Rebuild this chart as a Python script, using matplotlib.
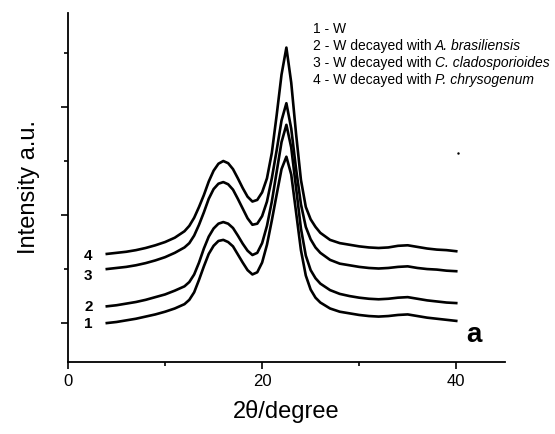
import matplotlib.pyplot as plt
from matplotlib.ticker import MultipleLocator, NullFormatter

plt.rcParams['font.family'] = ['Liberation Sans', 'DejaVu Sans']

# 2theta positions (degree)
two_theta = [4, 5, 6, 7, 8, 9, 10, 11, 12, 12.5, 13, 13.5, 14, 14.5, 15, 15.5, 16,
             16.5, 17, 17.5, 18, 18.5, 19, 19.5, 20, 20.5, 21, 21.5, 22, 22.5, 23,
             23.5, 24, 24.5, 25, 25.5, 26, 27, 28, 29, 30, 31, 32, 33, 34, 35, 36,
             37, 38, 39, 40]

# intensities (a.u., stacked)
w1 = [1.00, 1.02, 1.05, 1.08, 1.12, 1.16, 1.21, 1.27, 1.35, 1.43, 1.57, 1.80, 2.05,
      2.28, 2.43, 2.52, 2.54, 2.50, 2.42, 2.27, 2.12, 1.98, 1.90, 1.94, 2.12, 2.45,
      2.90, 3.38, 3.85, 4.08, 3.75, 3.05, 2.35, 1.88, 1.62, 1.47, 1.38, 1.27, 1.21,
      1.18, 1.15, 1.13, 1.12, 1.13, 1.15, 1.16, 1.13, 1.10, 1.08, 1.06, 1.04]
w2 = [1.31, 1.33, 1.36, 1.39, 1.43, 1.48, 1.53, 1.60, 1.68, 1.76, 1.90, 2.12, 2.38,
      2.60, 2.75, 2.84, 2.87, 2.84, 2.76, 2.62, 2.47, 2.34, 2.26, 2.30, 2.48, 2.80,
      3.25, 3.80, 4.35, 4.67, 4.25, 3.50, 2.75, 2.25, 1.98, 1.83, 1.73, 1.61, 1.54,
      1.50, 1.47, 1.45, 1.44, 1.45, 1.47, 1.48, 1.45, 1.42, 1.40, 1.38, 1.37]
w3 = [2.00, 2.02, 2.04, 2.07, 2.11, 2.16, 2.22, 2.30, 2.40, 2.48, 2.62, 2.82, 3.05,
      3.30, 3.48, 3.58, 3.61, 3.57, 3.47, 3.30, 3.12, 2.94, 2.82, 2.84, 2.98, 3.25,
      3.68, 4.20, 4.75, 5.07, 4.60, 3.85, 3.20, 2.78, 2.55, 2.40, 2.30, 2.17, 2.10,
      2.07, 2.04, 2.02, 2.01, 2.02, 2.04, 2.05, 2.02, 2.00, 1.99, 1.97, 1.96]
w4 = [2.28, 2.30, 2.32, 2.35, 2.39, 2.44, 2.50, 2.58, 2.70, 2.80, 2.95, 3.15, 3.37,
      3.62, 3.82, 3.95, 4.00, 3.96, 3.85, 3.68, 3.50, 3.34, 3.25, 3.28, 3.42, 3.68,
      4.15, 4.85, 5.60, 6.10, 5.45, 4.50, 3.65, 3.15, 2.92, 2.78, 2.67, 2.54, 2.48,
      2.45, 2.42, 2.40, 2.39, 2.40, 2.43, 2.44, 2.41, 2.38, 2.36, 2.35, 2.33]

curve_labels = ['1', '2', '3', '4']
label_y = [0.98, 1.30, 1.87, 2.24]
legend_plain = ['1 - W', '2 - W decayed with ', '3 - W decayed with ',
                '4 - W decayed with ']
legend_italic = ['', 'A. brasiliensis', 'C. cladosporioides', 'P. chrysogenum']

fig = plt.figure(figsize=(5.55, 4.34), dpi=100)
ax = fig.add_axes([0.1225, 0.166, 0.787, 0.804])

for w in [w1, w2, w3, w4]:
    ax.plot(two_theta, w, color='black', lw=1.9)

for lab, yy in zip(curve_labels, label_y):
    ax.text(2.1, yy, lab, fontsize=11, fontweight='bold', ha='center', va='center')

# legend as text lines, species names in italics
for i, (p, it) in enumerate(zip(legend_plain, legend_italic)):
    t = ax.text(25.2, 6.44 - i * 0.315, p, fontsize=10, ha='left', va='center')
    if it:
        ax.annotate(it, xy=(1, 0.5), xycoords=t, ha='left', va='center',
                    fontsize=10, style='italic')

ax.text(41.8, 0.78, 'a', fontsize=20, fontweight='bold', ha='center', va='center')
ax.plot([40.2], [4.15], marker='.', color='black', ms=1.5)

ax.set_xlim(0, 45)
ax.set_ylim(0.28, 6.74)
ax.xaxis.set_major_locator(MultipleLocator(20))
ax.xaxis.set_minor_locator(MultipleLocator(10))
ax.yaxis.set_major_locator(MultipleLocator(2, offset=1))
ax.yaxis.set_minor_locator(MultipleLocator(1))
ax.yaxis.set_major_formatter(NullFormatter())
ax.spines['top'].set_visible(False)
ax.spines['right'].set_visible(False)
for s in ['left', 'bottom']:
    ax.spines[s].set_linewidth(1.3)
ax.tick_params(axis='both', which='major', length=5, width=1.2, labelsize=12)
ax.tick_params(axis='both', which='minor', length=3, width=1.2)

ax.set_xlabel('2θ/degree', fontsize=17, labelpad=8)
ax.set_ylabel('Intensity a.u.', fontsize=17, labelpad=12)

fig.savefig('out.png', dpi=100)
